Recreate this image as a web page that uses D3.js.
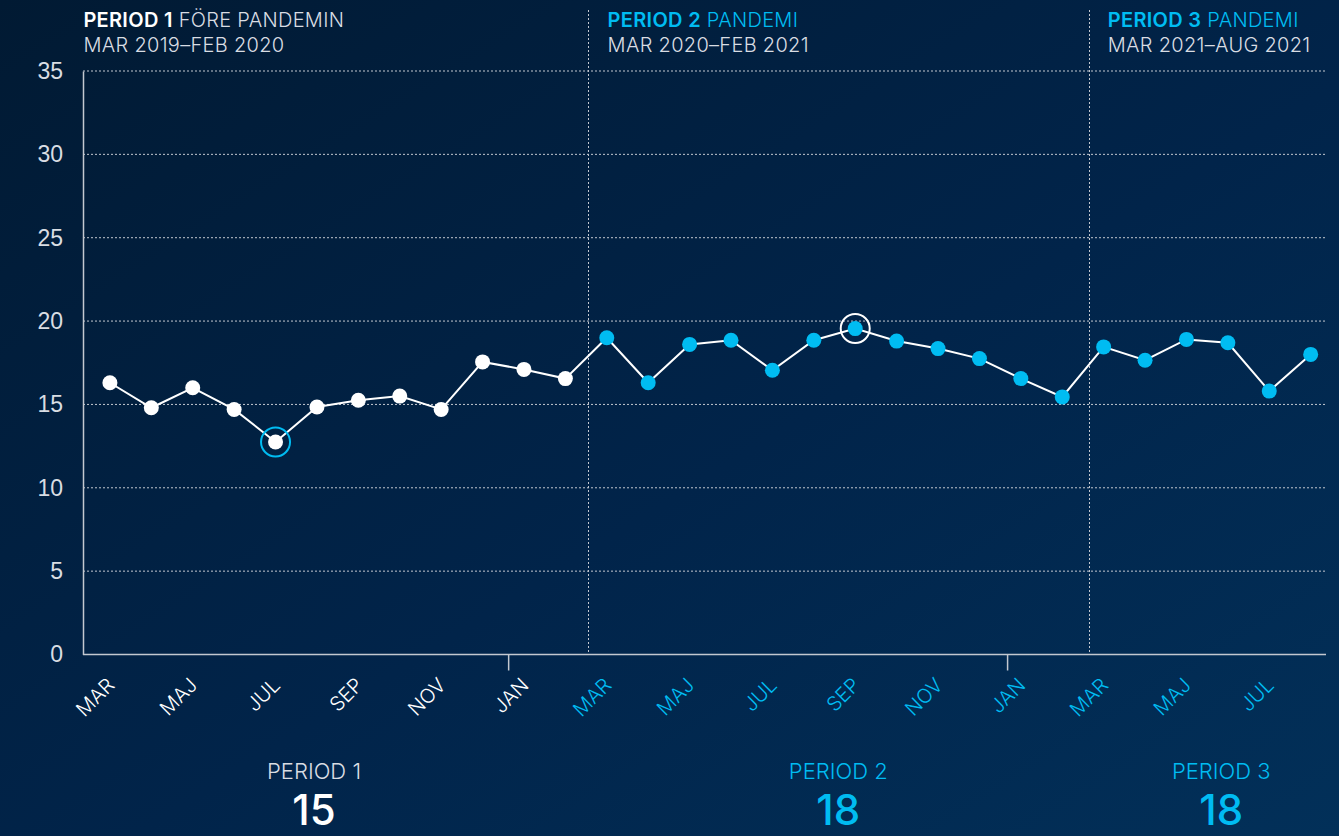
<!DOCTYPE html>
<html>
<head>
<meta charset="utf-8">
<script src="https://cdn.jsdelivr.net/npm/d3@7"></script>
<style>
  html, body { margin: 0; padding: 0; }
  body { width: 1339px; height: 836px; overflow: hidden; }
  svg { display: block; font-family: Inter, "Noto Sans", sans-serif; }
</style>
</head>
<body>
<div id="chart"></div>
<script>
var width = 1339, height = 836;

// month labels (swedish) and values, mar 2019 - aug 2021
var months = ["MAR", "APR", "MAJ", "JUN", "JUL", "AUG", "SEP", "OKT", "NOV", "DEC", "JAN", "FEB",
              "MAR", "APR", "MAJ", "JUN", "JUL", "AUG", "SEP", "OKT", "NOV", "DEC", "JAN", "FEB",
              "MAR", "APR", "MAJ", "JUN", "JUL", "AUG"];
var values = [16.3, 14.8, 16.0, 14.7, 12.75, 14.85, 15.25, 15.5, 14.7, 17.55, 17.1, 16.55,
              19.0, 16.3, 18.6, 18.85, 17.05, 18.85, 19.55, 18.8, 18.35, 17.75, 16.55, 15.45,
              18.45, 17.65, 18.9, 18.7, 15.8, 18.0];
var periodOf = [1, 1, 1, 1, 1, 1, 1, 1, 1, 1, 1, 1,
                2, 2, 2, 2, 2, 2, 2, 2, 2, 2, 2, 2,
                3, 3, 3, 3, 3, 3];

var periodNames = ["PERIOD 1", "PERIOD 2", "PERIOD 3"];
var periodDescs = ["FÖRE PANDEMIN", "PANDEMI", "PANDEMI"];
var periodRanges = ["MAR 2019–FEB 2020", "MAR 2020–FEB 2021", "MAR 2021–AUG 2021"];
var periodAverages = [15, 18, 18];

var yTicks = [0, 5, 10, 15, 20, 25, 30, 35];
var highlighted = [4, 18];   // min (period 1) and max (period 2)

var white = "#ffffff", grey = "#d9dde3", blue = "#00bcf2", gridClr = "#c3c8d0";

// layout (in month-index units for the x direction)
var dividerAt = [11.54, 23.65];
var janTickAt = [9.63, 21.68];
var headerAt = [-0.64, 12.02, 24.1];
var summaryAt = [4.93, 17.59, 26.84];

var svg = d3.select("#chart").append("svg")
    .attr("width", width)
    .attr("height", height);

// background gradient
var grad = svg.append("defs").append("linearGradient")
    .attr("id", "bg")
    .attr("x1", "0%").attr("y1", "0%")
    .attr("x2", "100%").attr("y2", "100%");
grad.append("stop").attr("offset", "0%").attr("stop-color", "#011a33");
grad.append("stop").attr("offset", "55%").attr("stop-color", "#01244a");
grad.append("stop").attr("offset", "100%").attr("stop-color", "#023059");
svg.append("rect").attr("width", width).attr("height", height).attr("fill", "url(#bg)");

var x = d3.scaleLinear().domain([-0.65, 29.37]).range([83, 1326]);
var y = d3.scaleLinear().domain([0, 35]).range([654.5, 71]);

function pColor(p) { return p == 1 ? white : blue; }

// horizontal grid
svg.append("g").selectAll("line")
    .data(yTicks.filter(function (d) { return d > 0; }))
    .enter().append("line")
    .attr("x1", x.range()[0]).attr("x2", x.range()[1])
    .attr("y1", function (d) { return y(d); })
    .attr("y2", function (d) { return y(d); })
    .attr("stroke", gridClr)
    .attr("stroke-width", 1)
    .attr("stroke-dasharray", "2,2");

// period dividers
svg.append("g").selectAll("line")
    .data(dividerAt)
    .enter().append("line")
    .attr("x1", function (d) { return Math.round(x(d)) + 0.5; })
    .attr("x2", function (d) { return Math.round(x(d)) + 0.5; })
    .attr("y1", 10).attr("y2", y(0))
    .attr("stroke", gridClr)
    .attr("stroke-width", 1)
    .attr("stroke-dasharray", "2,2");

// axes
var yAxis = d3.axisLeft(y).tickValues(yTicks).tickSize(0).tickPadding(20);
var yg = svg.append("g").attr("transform", "translate(" + x.range()[0] + ",0)").call(yAxis);
yg.select(".domain").attr("stroke", gridClr).attr("stroke-width", 1.5);
yg.selectAll("text")
    .attr("fill", grey)
    .style("font-size", "23px")
    .style("font-weight", 300)
    .attr("font-family", null);

svg.append("line")
    .attr("x1", x.range()[0]).attr("x2", x.range()[1])
    .attr("y1", y(0)).attr("y2", y(0))
    .attr("stroke", gridClr)
    .attr("stroke-width", 1.5);

svg.append("g").selectAll("line")
    .data(janTickAt)
    .enter().append("line")
    .attr("x1", function (d) { return x(d); })
    .attr("x2", function (d) { return x(d); })
    .attr("y1", y(0)).attr("y2", y(0) + 16)
    .attr("stroke", gridClr)
    .attr("stroke-width", 1.5);

// month labels, every second month
svg.append("g").selectAll("text")
    .data(months.map(function (m, i) { return { m: m, i: i }; }).filter(function (d) { return d.i % 2 == 0; }))
    .enter().append("text")
    .attr("transform", function (d) { return "translate(" + (x(d.i) - 4) + "," + (y(0) + 22) + ") rotate(-45)"; })
    .attr("text-anchor", "end")
    .attr("dy", "0.7em")
    .attr("fill", function (d) { return periodOf[d.i] == 1 ? white : blue; })
    .style("font-size", "20px")
    .style("font-weight", 300)
    .text(function (d) { return d.m; });

// line
var line = d3.line()
    .x(function (d, i) { return x(i); })
    .y(function (d) { return y(d); });
svg.append("path")
    .datum(values)
    .attr("d", line)
    .attr("fill", "none")
    .attr("stroke", white)
    .attr("stroke-width", 2);

// highlight rings
svg.append("g").selectAll("circle")
    .data(highlighted)
    .enter().append("circle")
    .attr("cx", function (d) { return x(d); })
    .attr("cy", function (d) { return y(values[d]); })
    .attr("r", 14.5)
    .attr("fill", "none")
    .attr("stroke", function (d) { return periodOf[d] == 1 ? blue : white; })
    .attr("stroke-width", 2);

// dots
svg.append("g").selectAll("circle")
    .data(values)
    .enter().append("circle")
    .attr("cx", function (d, i) { return x(i); })
    .attr("cy", function (d) { return y(d); })
    .attr("r", 7.5)
    .attr("fill", function (d, i) { return pColor(periodOf[i]); });

// headers
var hdr = svg.append("g").selectAll("g")
    .data(periodNames)
    .enter().append("g")
    .attr("transform", function (d, i) { return "translate(" + x(headerAt[i]) + ",0)"; })
    .style("font-size", "20px")
    .style("letter-spacing", "0.3px");
var t1 = hdr.append("text").attr("y", 27);
t1.append("tspan")
    .attr("fill", function (d, i) { return i == 0 ? white : blue; })
    .style("font-weight", 600)
    .text(function (d) { return d; });
t1.append("tspan")
    .attr("fill", function (d, i) { return i == 0 ? grey : blue; })
    .style("font-weight", 300)
    .text(function (d, i) { return " " + periodDescs[i]; });
hdr.append("text")
    .attr("y", 52)
    .attr("fill", grey)
    .style("font-weight", 300)
    .text(function (d, i) { return periodRanges[i]; });

// period averages at the bottom
var sum = svg.append("g").selectAll("g")
    .data(periodNames)
    .enter().append("g")
    .attr("transform", function (d, i) { return "translate(" + x(summaryAt[i]) + ",0)"; })
    .attr("text-anchor", "middle");
sum.append("text")
    .attr("y", 779)
    .attr("fill", function (d, i) { return i == 0 ? grey : blue; })
    .style("font-size", "22px")
    .style("font-weight", 300)
    .text(function (d) { return d; });
sum.append("text")
    .attr("y", 825)
    .attr("fill", function (d, i) { return i == 0 ? white : blue; })
    .style("font-size", "42px")
    .style("font-weight", 500)
    .text(function (d, i) { return periodAverages[i]; });
</script>
</body>
</html>
